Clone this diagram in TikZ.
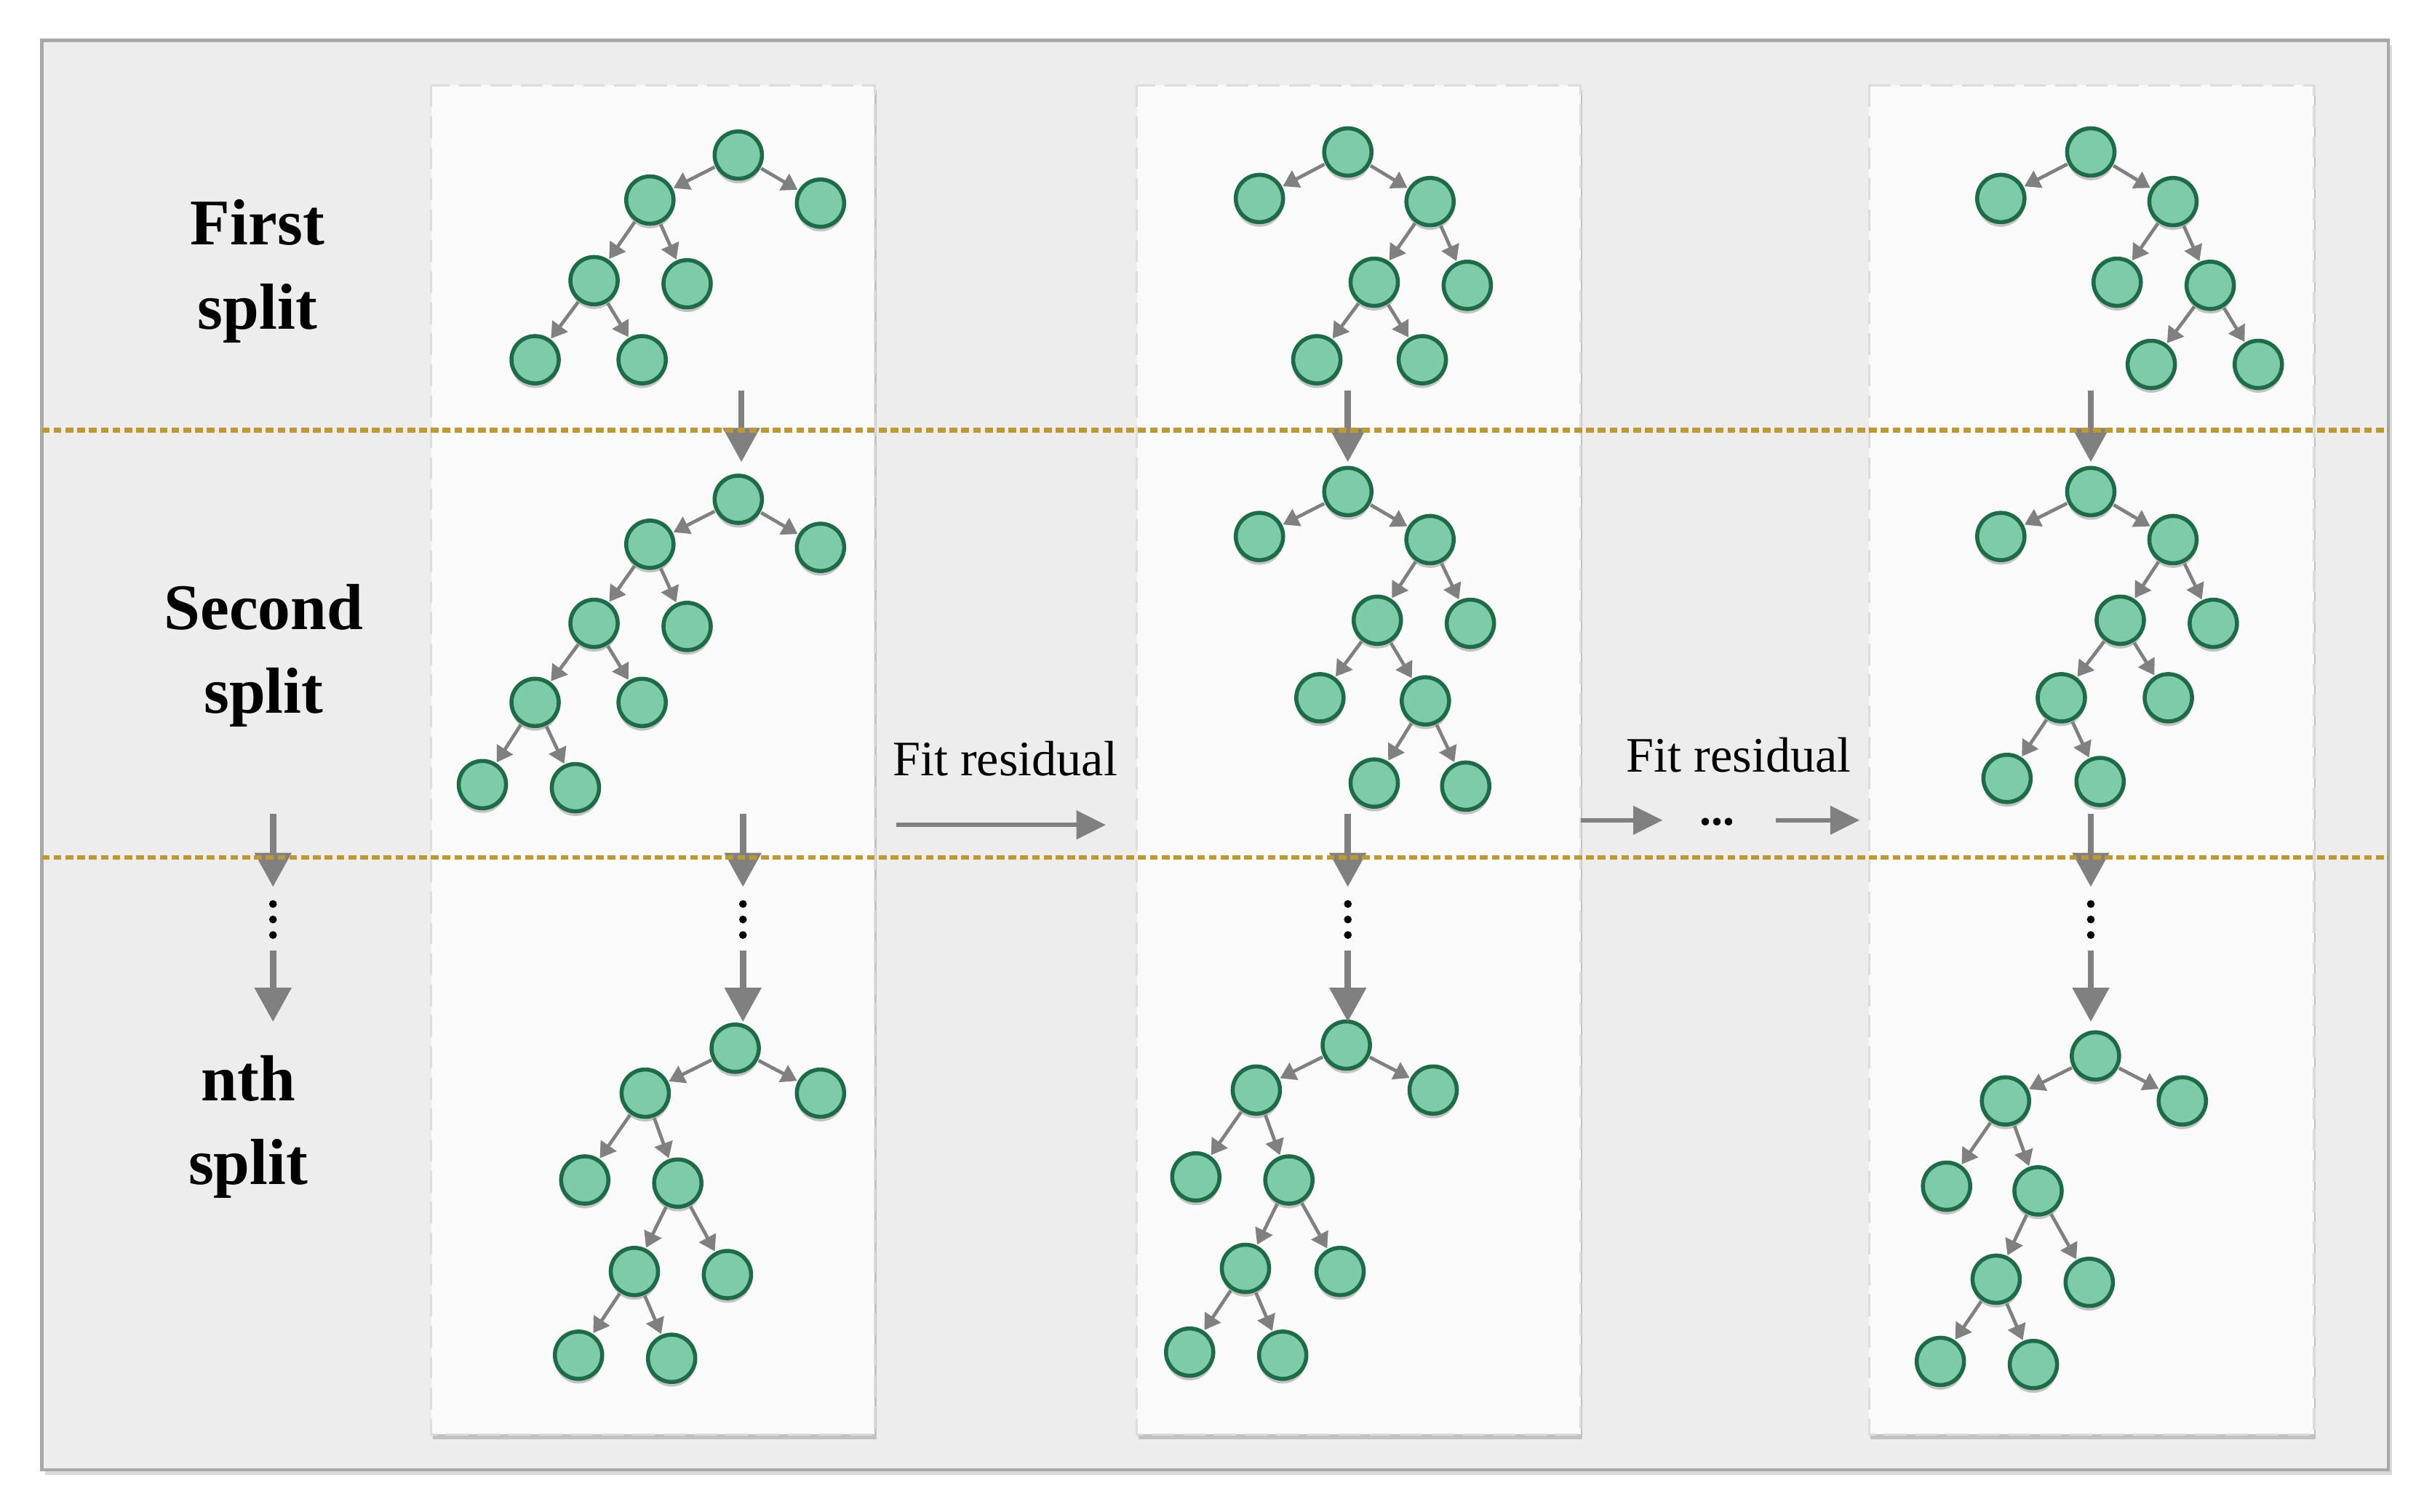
\documentclass[tikz,border=0pt]{standalone}
\usepackage{fontspec}
\setmainfont{Liberation Serif}
\usetikzlibrary{arrows.meta,shadows}
\definecolor{framefill}{HTML}{EDEDED}
\definecolor{frameborder}{HTML}{A8A8A8}
\definecolor{panelfill}{HTML}{FAFAFA}
\definecolor{panelborder}{HTML}{DCDCDC}
\definecolor{nodefill}{HTML}{7ECBA8}
\definecolor{nodeborder}{HTML}{1D6B47}
\definecolor{edgegray}{HTML}{808080}
\definecolor{goldline}{HTML}{BE9830}
\tikzset{
  tn/.style={circle, minimum size=30.5pt, inner sep=0pt, fill=nodefill, draw=nodeborder, line width=2.6pt,
    drop shadow={shadow xshift=0pt, shadow yshift=-3pt, opacity=0.22, fill=black}},
  edge/.style={draw=edgegray, line width=2.2pt, -{Triangle[length=10pt,width=12pt]}, shorten <=0.5pt, shorten >=0.5pt},
  bigarrow/.style={draw=edgegray, line width=4pt, -{Triangle[length=22pt,width=23pt]}},
  flowarrow/.style={draw=edgegray, line width=3pt, -{Triangle[length=19pt,width=18pt]}},
  panel/.style={fill=panelfill, draw=panelborder, line width=1.5pt, dash pattern=on 14pt off 6pt,
    drop shadow={shadow xshift=1pt, shadow yshift=-3pt, opacity=0.18, fill=black}},
  splitlabel/.style={anchor=base, align=center, font=\fontsize{42}{54}\selectfont\bfseries},
  fitlabel/.style={anchor=base, font=\fontsize{32}{38}\selectfont},
  goldsep/.style={draw=goldline, line width=3pt, dash pattern=on 5pt off 2.6pt},
  vdot/.style={circle, fill=black, inner sep=0pt, minimum size=5pt}
}
\begin{document}
\begin{tikzpicture}[x=1pt,y=-1pt]
\useasboundingbox (0,0) rectangle (1568,975);
\fill[white] (0,0) rectangle (1568,975);
% outer frame
\draw[fill=framefill, draw=frameborder, line width=2pt,
  drop shadow={shadow xshift=2pt, shadow yshift=-3pt, opacity=0.15, fill=black}] (27,26) rectangle (1540,948);
% panels
\path[panel] (278,55) rectangle (564,925);
\path[panel] (733,55) rectangle (1019,925);
\path[panel] (1205,55) rectangle (1492,925);

% labels (anchor = baseline of the last line)
\node[splitlabel] (lab1) at (166,212) {First\\split};
\node[splitlabel] (lab2) at (170,460) {Second\\split};
\node[splitlabel] (lab3) at (160,764) {nth\\split};

% ---------- panel 1 ----------
\node[tn] (a1a) at (476,100) {};
\node[tn] (a1b) at (419,129) {};
\node[tn] (a1c) at (529,131) {};
\node[tn] (a1d) at (383,181) {};
\node[tn] (a1e) at (443,183) {};
\node[tn] (a1f) at (345,232) {};
\node[tn] (a1g) at (414,232) {};

\node[tn] (a2a) at (476,322) {};
\node[tn] (a2b) at (419,351) {};
\node[tn] (a2c) at (529,353) {};
\node[tn] (a2d) at (383,402) {};
\node[tn] (a2e) at (443,404) {};
\node[tn] (a2f) at (345,453) {};
\node[tn] (a2g) at (414,453) {};
\node[tn] (a2h) at (311,506) {};
\node[tn] (a2i) at (371,508) {};

\node[tn] (a3a) at (474,676) {};
\node[tn] (a3b) at (416,705) {};
\node[tn] (a3c) at (529,705) {};
\node[tn] (a3d) at (377,761) {};
\node[tn] (a3e) at (437,763) {};
\node[tn] (a3f) at (409,820) {};
\node[tn] (a3g) at (469,822) {};
\node[tn] (a3h) at (373,874) {};
\node[tn] (a3i) at (433,876) {};

% ---------- panel 2 ----------
\node[tn] (b1a) at (869,98) {};
\node[tn] (b1b) at (812,128) {};
\node[tn] (b1c) at (922,130) {};
\node[tn] (b1d) at (886,182) {};
\node[tn] (b1e) at (946,184) {};
\node[tn] (b1f) at (849,232) {};
\node[tn] (b1g) at (917,232) {};

\node[tn] (b2a) at (869,317) {};
\node[tn] (b2b) at (812,346) {};
\node[tn] (b2c) at (922,348) {};
\node[tn] (b2d) at (888,400) {};
\node[tn] (b2e) at (948,402) {};
\node[tn] (b2f) at (851,450) {};
\node[tn] (b2g) at (919,452) {};
\node[tn] (b2h) at (886,505) {};
\node[tn] (b2i) at (945,507) {};

\node[tn] (b3a) at (868,674) {};
\node[tn] (b3b) at (810,703) {};
\node[tn] (b3c) at (924,703) {};
\node[tn] (b3d) at (771,759) {};
\node[tn] (b3e) at (831,761) {};
\node[tn] (b3f) at (803,818) {};
\node[tn] (b3g) at (864,820) {};
\node[tn] (b3h) at (767,872) {};
\node[tn] (b3i) at (827,874) {};

% ---------- panel 3 ----------
\node[tn] (c1a) at (1348,98) {};
\node[tn] (c1b) at (1290,128) {};
\node[tn] (c1c) at (1401,130) {};
\node[tn] (c1d) at (1365,182) {};
\node[tn] (c1e) at (1425,184) {};
\node[tn] (c1f) at (1387,235) {};
\node[tn] (c1g) at (1456,235) {};

\node[tn] (c2a) at (1348,317) {};
\node[tn] (c2b) at (1290,346) {};
\node[tn] (c2c) at (1401,348) {};
\node[tn] (c2d) at (1367,400) {};
\node[tn] (c2e) at (1427,402) {};
\node[tn] (c2f) at (1329,450) {};
\node[tn] (c2g) at (1398,450) {};
\node[tn] (c2h) at (1294,502) {};
\node[tn] (c2i) at (1354,504) {};

\node[tn] (c3a) at (1351,681) {};
\node[tn] (c3b) at (1293,710) {};
\node[tn] (c3c) at (1407,710) {};
\node[tn] (c3d) at (1255,765) {};
\node[tn] (c3e) at (1314,768) {};
\node[tn] (c3f) at (1287,825) {};
\node[tn] (c3g) at (1347,827) {};
\node[tn] (c3h) at (1251,878) {};
\node[tn] (c3i) at (1311,880) {};

% tree edges
\foreach \p/\q in {a1a/a1b,a1a/a1c,a1b/a1d,a1b/a1e,a1d/a1f,a1d/a1g,
  a2a/a2b,a2a/a2c,a2b/a2d,a2b/a2e,a2d/a2f,a2d/a2g,a2f/a2h,a2f/a2i,
  a3a/a3b,a3a/a3c,a3b/a3d,a3b/a3e,a3e/a3f,a3e/a3g,a3f/a3h,a3f/a3i,
  b1a/b1b,b1a/b1c,b1c/b1d,b1c/b1e,b1d/b1f,b1d/b1g,
  b2a/b2b,b2a/b2c,b2c/b2d,b2c/b2e,b2d/b2f,b2d/b2g,b2g/b2h,b2g/b2i,
  b3a/b3b,b3a/b3c,b3b/b3d,b3b/b3e,b3e/b3f,b3e/b3g,b3f/b3h,b3f/b3i,
  c1a/c1b,c1a/c1c,c1c/c1d,c1c/c1e,c1e/c1f,c1e/c1g,
  c2a/c2b,c2a/c2c,c2c/c2d,c2c/c2e,c2d/c2f,c2d/c2g,c2f/c2h,c2f/c2i,
  c3a/c3b,c3a/c3c,c3b/c3d,c3b/c3e,c3e/c3f,c3e/c3g,c3f/c3h,c3f/c3i}
  \draw[edge] (\p) -- (\q);

% vertical flow arrows and dots
\foreach \n/\x in {l/176,a/479,b/869,c/1348}{
  \coordinate (\n s2) at (\x,525);
  \coordinate (\n t2) at (\x,572);
  \coordinate (\n s3) at (\x,613);
  \coordinate (\n t3) at (\x,659);
  \node[vdot] (\n d1) at (\x,583) {};
  \node[vdot] (\n d2) at (\x,593) {};
  \node[vdot] (\n d3) at (\x,603) {};
}
\foreach \n/\x in {a/478,b/869,c/1348}{
  \coordinate (\n s1) at (\x,252);
  \coordinate (\n t1) at (\x,298);
  \draw[bigarrow] (\n s1) -- (\n t1);
}
\foreach \n in {l,a,b,c}{
  \draw[bigarrow] (\n s2) -- (\n t2);
  \draw[bigarrow] (\n s3) -- (\n t3);
}

% horizontal flow
\node[fitlabel] (fit1) at (648,500) {Fit residual};
\node[fitlabel] (fit2) at (1121,498) {Fit residual};
\coordinate (h1s) at (578,532);
\coordinate (h1t) at (713,532);
\coordinate (h2s) at (1019,529);
\coordinate (h2t) at (1072,529);
\coordinate (h3s) at (1145,529);
\coordinate (h3t) at (1199,529);
\draw[flowarrow] (h1s) -- (h1t);
\draw[flowarrow] (h2s) -- (h2t);
\draw[flowarrow] (h3s) -- (h3t);
\node[anchor=base, font=\fontsize{30}{36}\selectfont\bfseries] (hdots) at (1107,532) {...};

% gold separators
\coordinate (g1l) at (27,277.5);
\coordinate (g1r) at (1540,277.5);
\coordinate (g2l) at (27,553);
\coordinate (g2r) at (1540,553);
\draw[goldsep] (g1l) -- (g1r);
\draw[goldsep] (g2l) -- (g2r);
\end{tikzpicture}
\end{document}
